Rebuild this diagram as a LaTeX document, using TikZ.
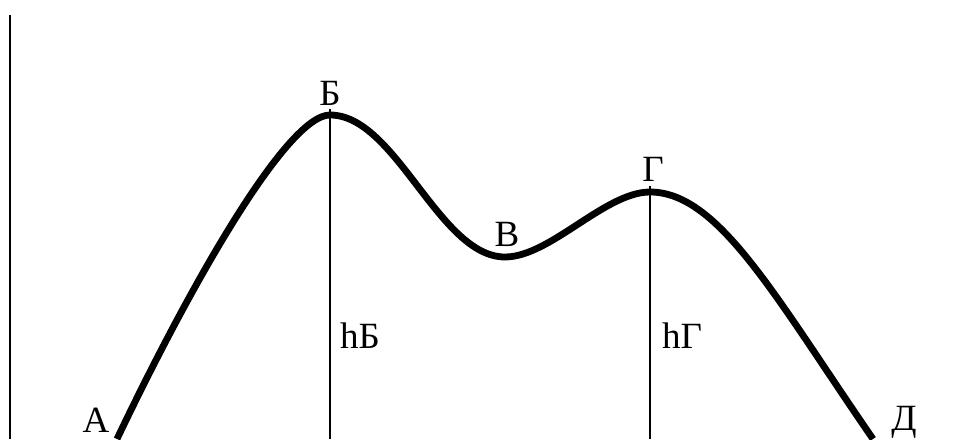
\documentclass[tikz,border=0pt]{standalone}
\usepackage{fontspec}
\setmainfont{Liberation Serif}
\begin{document}
\begin{tikzpicture}[x=1pt,y=1pt,
  curve/.style={line width=6.8pt,line cap=butt,line join=round},
  thin/.style={line width=2pt},
  axis/.style={line width=2.6pt},
  lbl/.style={inner sep=0pt,font=\fontsize{37}{42}\selectfont}]
\useasboundingbox (0,0) rectangle (968,439);
% key points
\coordinate (A) at (117,0);
\coordinate (B) at (330,324);
\coordinate (V) at (505,182);
\coordinate (G) at (650,247);
\coordinate (D) at (873,0);
\coordinate (Btop) at (330,330);
\coordinate (Gtop) at (650,253);
\coordinate (Bf) at (330,0);
\coordinate (Gf) at (650,0);
\coordinate (axtop) at (10,424);
\coordinate (axbot) at (10,0);
% axis
\draw[axis] (axtop) -- (axbot);
% heights
\draw[thin] (Btop) -- (Bf);
\draw[thin] (Gtop) -- (Gf);
% profile curve
\draw[curve] (A) .. controls (190.6,154.4) and (287,324) .. (B)
  .. controls (396,324) and (439,182) .. (V)
  .. controls (550,182) and (605,247) .. (G)
  .. controls (719,247) and (776.4,139.9) .. (D);
% labels
\node[lbl,anchor=base] (lB) at (330,333) {Б};
\node[lbl,anchor=base] (lV) at (507,192) {В};
\node[lbl,anchor=base] (lG) at (653,257) {Г};
\node[lbl,anchor=base] (lA) at (96,7) {А};
\node[lbl,anchor=base] (lD) at (904,9) {Д};
\node[lbl,anchor=base west] (hB) at (340,91) {hБ};
\node[lbl,anchor=base west] (hG) at (662,91) {hГ};
\end{tikzpicture}
\end{document}
